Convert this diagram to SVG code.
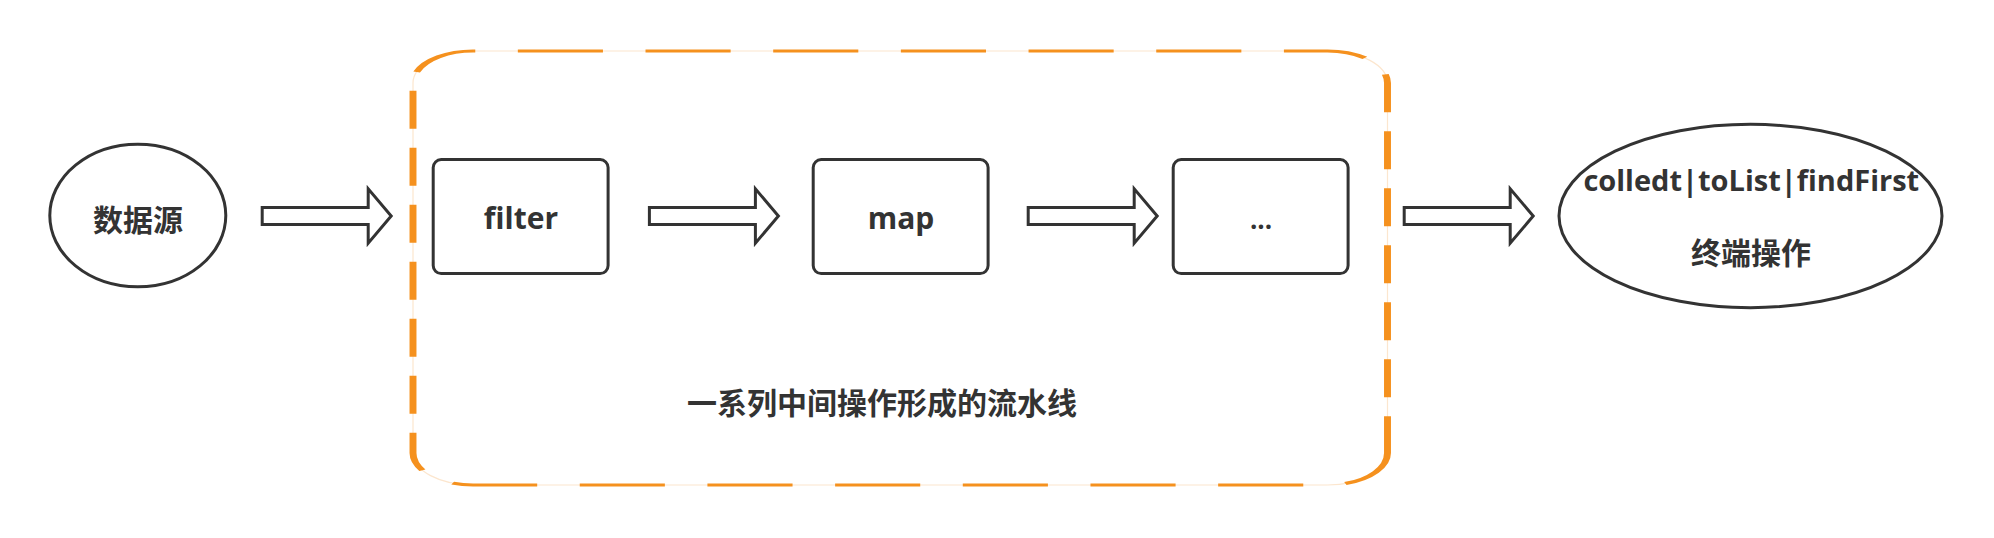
<svg xmlns="http://www.w3.org/2000/svg" width="1994" height="538" viewBox="0 0 1994 538">
  <defs>
    <style>
      .shape { fill: #ffffff; stroke: #333333; stroke-width: 3; }
      .arrow { fill: #ffffff; stroke: #333333; stroke-width: 3; stroke-linejoin: miter; }
      .lbl { font-family: 'Open Sans', 'Noto Sans CJK SC', sans-serif; font-weight: 700; fill: #333333; text-anchor: middle; }
      .cjk { font-family: 'Noto Sans CJK SC', sans-serif; font-weight: 700; fill: #333333; text-anchor: middle; font-size: 30px; }
      .dash { fill: none; stroke: #F5911E; stroke-width: 3.1; stroke-dasharray: 38 19; }
      .faint { fill: none; stroke: #FCE6CE; stroke-width: 1.2; }
    </style>
    <path id="fatArrow" d="M1.5,-8.5 H107.5 V-27.2 L130.5,0 L107.5,27.2 V8.5 H1.5 Z"/>
  </defs>
  <rect width="1994" height="538" fill="#ffffff"/>

  <g id="pipeline">
    <g transform="scale(2.24,1)">
      <path class="faint" vector-effect="non-scaling-stroke" d="M211.175,51 H592.62 A26.8,32 0 0 1 619.42,83 V453 A26.8,32 0 0 1 592.62,485 H211.175 A26.8,32 0 0 1 184.375,453 V83 A26.8,32 0 0 1 211.175,51 Z"/>
      <path class="dash" stroke-dashoffset="37" d="M211.175,51 H592.62 A26.8,32 0 0 1 619.42,83 V453"/>
      <path class="dash" stroke-dashoffset="0" d="M619.42,453 A26.8,32 0 0 1 592.62,485 H211.175 A26.8,32 0 0 1 184.375,453 V83 A26.8,32 0 0 1 211.175,51"/>
    </g>
    <text class="cjk" x="882" y="414">一系列中间操作形成的流水线</text>
  </g>

  <g id="source">
    <ellipse class="shape" cx="137.8" cy="215.5" rx="88" ry="71.3"/>
    <text class="cjk" x="138" y="231">数据源</text>
  </g>

  <g id="filter">
    <rect class="shape" x="433.2" y="159.6" width="174.9" height="114" rx="8" ry="8"/>
    <text class="lbl" x="521" y="228.5" font-size="30">filter</text>
  </g>

  <g id="map">
    <rect class="shape" x="813.2" y="159.6" width="174.9" height="114" rx="8" ry="8"/>
    <text class="lbl" x="901" y="229" font-size="30">map</text>
  </g>

  <g id="more">
    <rect class="shape" x="1173.2" y="159.6" width="174.9" height="114" rx="8" ry="8"/>
    <text class="lbl" x="1261" y="229" font-size="26">...</text>
  </g>

  <g id="terminal">
    <ellipse class="shape" cx="1750.5" cy="216" rx="191.5" ry="91.7"/>
    <text class="lbl" x="1751.3" y="190.7" font-size="29">colledt|toList|findFirst</text>
    <text class="cjk" x="1751" y="264">终端操作</text>
  </g>

  <g id="connectors">
    <use href="#fatArrow" class="arrow" transform="translate(260.7,216)"/>
    <use href="#fatArrow" class="arrow" transform="translate(647.9,216)"/>
    <use href="#fatArrow" class="arrow" transform="translate(1026.7,216)"/>
    <use href="#fatArrow" class="arrow" transform="translate(1402.7,216)"/>
  </g>
</svg>
